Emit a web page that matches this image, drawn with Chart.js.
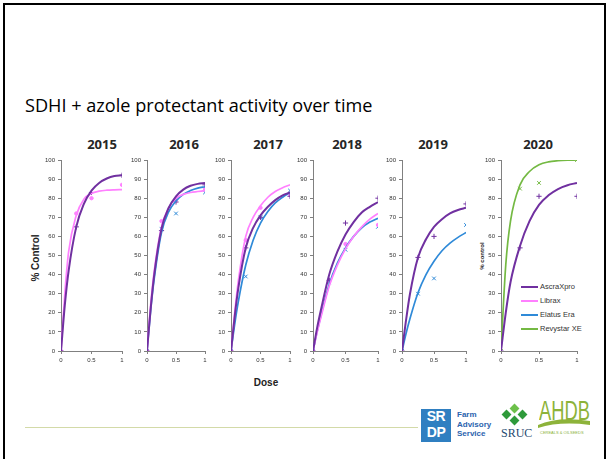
<!DOCTYPE html>
<html>
<head>
<meta charset="utf-8">
<script src="https://cdn.jsdelivr.net/npm/chart.js@4.4.1/dist/chart.umd.min.js"></script>
<style>
  body { margin:0; width:608px; height:459px; background:#fff; position:relative; overflow:hidden; font-family:Arial, "Liberation Sans", sans-serif; }
  .abs { position:absolute; }
  canvas { position:absolute; }
  #frame { left:3px; top:3px; width:599px; height:480px; border:2px solid #000; }
  #title { left:25px; top:92px; font-family:"Open Sans"; font-size:19px; color:#000; white-space:nowrap; transform-origin:0 0; }
  .year { font-family:"Open Sans"; font-weight:bold; font-size:13px; color:#262626; transform:translateX(-50%); }
  .leg { left:521px; font-size:7.5px; color:#333; white-space:nowrap; }
  .leg span { display:inline-block; width:17px; height:2.5px; vertical-align:middle; margin-right:2px; }
</style>
</head>
<body>
<div id="frame" class="abs"></div>
<div id="title" class="abs">SDHI + azole protectant activity over time</div>
<div class="abs" style="left:35px;top:258px;font-size:10px;font-weight:bold;color:#222;transform:translate(-50%,-50%) rotate(-90deg);white-space:nowrap">% Control</div>
<div class="abs" style="left:482px;top:256px;font-size:6px;font-weight:bold;color:#222;transform:translate(-50%,-50%) rotate(-90deg);white-space:nowrap">% control</div>
<div class="abs" style="left:266px;top:382px;font-size:10px;font-weight:bold;color:#222;transform:translate(-50%,-50%)">Dose</div>
<div id="legend"></div>

<!-- footer -->
<div class="abs" style="left:25px;top:427px;width:393px;height:1px;background:#d3daa8"></div>
<div class="abs" style="left:421px;top:409px;width:30px;height:33px;background:#2f7fc1;color:#fff;font-weight:bold;font-size:14px;line-height:15.5px;text-align:center;letter-spacing:-0.5px">SR<br>DP</div>
<div class="abs" style="left:457px;top:410px;font-size:8px;line-height:9.5px;font-weight:bold;color:#2b63ae">Farm<br>Advisory<br>Service</div>
<div class="abs" style="left:511px;top:405px;width:7px;height:7px;background:#6cc04a;transform:rotate(45deg)"></div>
<div class="abs" style="left:503px;top:411px;width:7px;height:7px;background:#2e9a3a;transform:rotate(45deg)"></div>
<div class="abs" style="left:519px;top:411px;width:7px;height:7px;background:#2e9a3a;transform:rotate(45deg)"></div>
<div class="abs" style="left:511px;top:417px;width:7px;height:7px;background:#2e9a3a;transform:rotate(45deg)"></div>
<div class="abs" style="left:501px;top:426px;font-family:'Liberation Serif';font-size:12px;color:#1f4a70">SRUC</div>
<div class="abs" style="left:539px;top:396px;font-size:27px;color:#8db33a;transform:scaleX(0.68);transform-origin:0 0">AHDB</div>
<svg class="abs" style="left:538px;top:418px" width="52" height="11"><path d="M0 7 Q20 -2 52 3 L52 7 Q22 3 0 10 Z" fill="#8db33a"/></svg>
<div class="abs" style="left:540px;top:430px;font-size:4px;color:#8db33a;white-space:nowrap">CEREALS &amp; OILSEEDS</div>

<script>
const years = ['2015', '2016', '2017', '2018', '2019', '2020'];
const products = ['AscraXpro', 'Librax', 'Elatus Era', 'Revystar XE'];
const doses = [0, 0.25, 0.5, 1];
const fitDoses = [0, 0.0625, 0.125, 0.25, 0.375, 0.5, 0.625, 0.75, 0.875, 1];
const doseLabels = { 0: '0', 0.5: '0.5', 1: '1' };

// observed % control per year (null = not in trial)
const ascraObs   = [[0,65,83,92],[0,63,78,87],[0,54,70,81],[0,37,67,80],[0,49,60,77],[0,54,81,81]];
const libraxObs  = [[0,72,80,87],[0,68,79,85],[0,58,75,82],[0,37,56,66],null,null];
const elatusObs  = [null,[0,64,72,83],[0,39,70,84],[0,36,53,65],[0,30,38,66],null];
const revystarObs = [null,null,null,null,null,[0,85,88,100]];

// fitted dose-response curves, read at fitDoses
const ascraFit = [
  [0,24,42,65,77,84,88,90.3,91.6,92],
  [0,22,40,64,75,81,84.5,86.5,87.5,88],
  [0,18,33,54,64.5,71,75.5,79,81.5,83],
  [0,12,22,40,52,61,67.5,72.5,75.5,78],
  [0,16,30,49,58.5,65,69,72,73.8,75],
  [0,20,36,55,68,76.5,81.5,84.8,86.8,88]
];
const libraxFit = [
  [0,30,52,71,79.5,82.5,83.7,84.2,84.4,84.5],
  [0,24,42,65,75,80,82,83,83.5,84],
  [0,20,37,60,70,76,80.5,83.5,85.5,87],
  [0,9.5,18,34,45,53.5,60,65,69,72],
  null, null
];
const elatusFit = [
  null,
  [0,21,38,62,73,78.5,82,84,85.3,86],
  [0,14,26,45,58,67,73,77.5,80.5,83],
  [0,10,19,35,46,54,60,64.5,67.5,69.5],
  [0,9,17,30.5,40,47,52.5,56.5,59.5,62],
  null
];
const revystarFit = [null,null,null,null,null,[0,45,68,87,94,97.5,99,99.6,99.9,100]];

const colors = ['#7030a0', '#ff80ff', '#2f8ad8', '#74b943'];
const markers = ['cross', 'circle', 'crossRot', 'crossRot'];
const obsSets = [ascraObs, libraxObs, elatusObs, revystarObs];
const fitSets = [ascraFit, libraxFit, elatusFit, revystarFit];

// panel placement: x of y-axis and of dose 1, year label centre
const panels = [
  { axis: 61, end: 122, label: 102 },
  { axis: 147, end: 205, label: 184 },
  { axis: 231, end: 290, label: 268 },
  { axis: 313, end: 378, label: 347 },
  { axis: 402, end: 466, label: 433 },
  { axis: 501, end: 577, label: 538 }
];

function pts(xs, ys) { return xs.map((x, i) => ({ x: x, y: ys[i] })); }

// title squeezed to the slide's narrow face
const t = document.getElementById('title');
t.style.transform = 'scaleX(' + (347 / t.offsetWidth) + ')';

panels.forEach((p, i) => {
  const yl = document.createElement('div');
  yl.className = 'abs year';
  yl.style.left = p.label + 'px';
  yl.style.top = '135px';
  yl.textContent = years[i];
  document.body.appendChild(yl);

  const datasets = [];
  // curves first in list so they sit on top, ascra highest
  for (let k = 0; k < products.length; k++) {
    if (!fitSets[k][i]) continue;
    datasets.push({
      label: products[k], data: pts(fitDoses, fitSets[k][i]), showLine: true,
      borderColor: colors[k], borderWidth: k == 0 ? 2 : 1.7, pointRadius: 0,
      cubicInterpolationMode: 'monotone', fill: false
    });
  }
  for (let k = 0; k < products.length; k++) {
    if (!obsSets[k][i]) continue;
    datasets.push({
      label: products[k] + ' obs', data: pts(doses, obsSets[k][i]), showLine: false,
      pointStyle: markers[k], pointRadius: k == 1 ? 1.7 : 2.6, borderWidth: 1,
      borderColor: colors[k], backgroundColor: colors[k]
    });
  }

  const c = document.createElement('canvas');
  const w = p.end - p.axis + 24 + 8;
  c.width = w; c.height = 232;
  c.style.left = (p.axis - 24) + 'px';
  c.style.top = '150px';
  document.body.appendChild(c);

  const tickFont = { size: 6, family: 'Arial' };
  new Chart(c, {
    type: 'scatter',
    data: { datasets: datasets },
    options: {
      animation: false, responsive: false, events: [],
      layout: { padding: { top: 10, right: 8, bottom: 0, left: 0 } },
      plugins: { legend: { display: false }, tooltip: { enabled: false } },
      scales: {
        x: {
          type: 'linear', min: 0, max: 1,
          ticks: { stepSize: 0.5, font: tickFont, color: '#333', padding: 3, maxRotation: 0,
                   callback: v => doseLabels[v] },
          grid: { drawOnChartArea: false, tickLength: 3, color: '#808080' },
          border: { color: '#808080' },
          afterFit: s => { s.height = 31; }
        },
        y: {
          min: 0, max: 100,
          ticks: { stepSize: 10, font: tickFont, color: '#333', padding: 3 },
          grid: { drawOnChartArea: false, tickLength: 3, color: '#808080' },
          border: { color: '#808080' },
          afterFit: s => { s.width = 24; }
        }
      }
    }
  });
});

// legend inside the 2020 panel
const leg = document.getElementById('legend');
products.forEach((name, k) => {
  const d = document.createElement('div');
  d.className = 'abs leg';
  d.style.top = (282 + k * 14) + 'px';
  d.innerHTML = '<span style="background:' + colors[k] + '"></span>' + name;
  leg.appendChild(d);
});
</script>
</body>
</html>
